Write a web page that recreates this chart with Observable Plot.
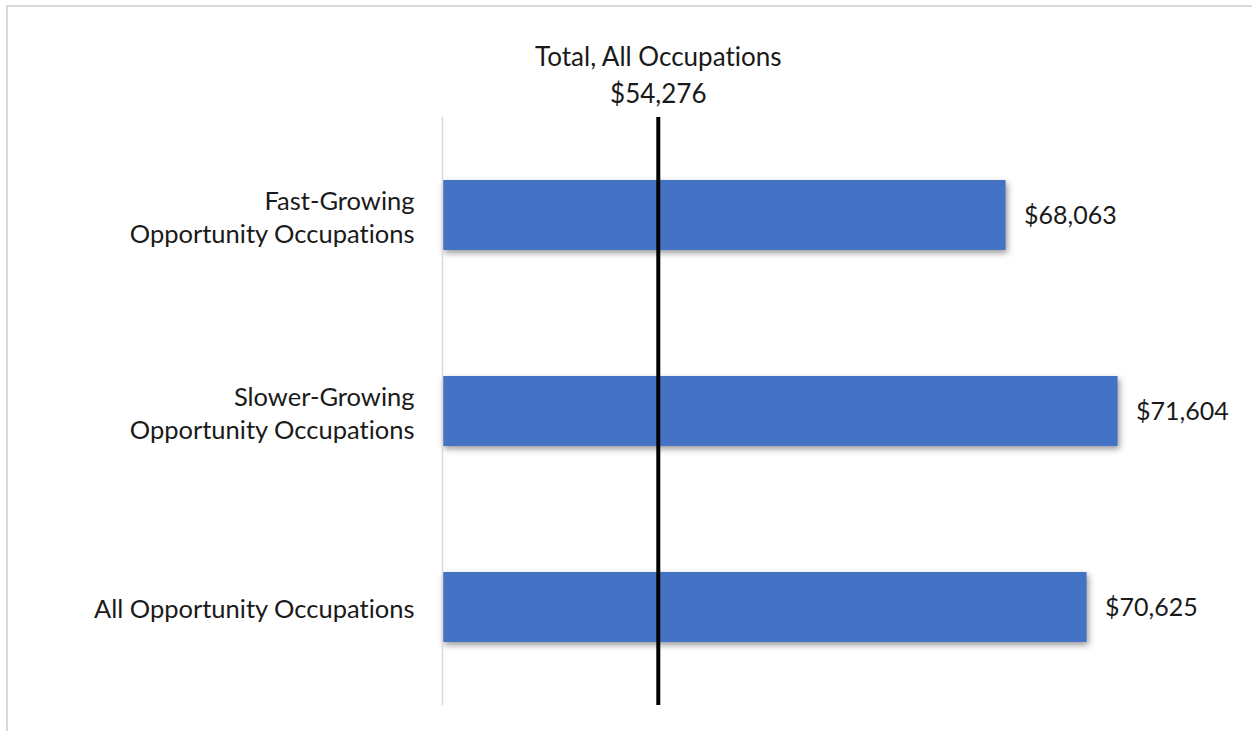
<!DOCTYPE html>
<html><head><meta charset="utf-8">
<script src="https://cdn.jsdelivr.net/npm/d3@7"></script>
<script src="https://cdn.jsdelivr.net/npm/@observablehq/plot@0.6"></script>
<style>
body{margin:0;background:#fff;}
#wrap{position:relative;width:1252px;height:731px;overflow:hidden;background:#fff;}
#frame{position:absolute;left:6px;top:5px;width:1300px;height:800px;border-top:2px solid #d9d9d9;border-left:2px solid #d9d9d9;}
#chart{position:absolute;left:0;top:0;}
svg text{font-variant-ligatures:none;}
</style></head><body>
<div id="wrap"><div id="frame"></div><div id="chart"></div></div>
<script>
// Data
const categories = ["Fast-Growing\nOpportunity Occupations", "Slower-Growing\nOpportunity Occupations", "All Opportunity Occupations"];
const values = [68063, 71604, 70625];
const totalLabel = "Total, All Occupations";
const totalValue = 54276;
// axes: primary axis for bars, secondary axis for the total line
const xDomain = [50250, 75000];
const secondaryDomain = [40000, 91800];

const fmt = d3.format("$,");
const rows = categories.map((c, i) => ({category: c, value: values[i]}));
const secondary = d3.scaleLinear().domain(secondaryDomain).range(xDomain);
const totalRow = [{label: totalLabel + "\n" + fmt(totalValue), pos: secondary(totalValue)}];

const font = "Lato, 'Open Sans', sans-serif";
const chart = Plot.plot({
  width: 1252,
  height: 731,
  marginLeft: 442,
  marginRight: 27,
  marginTop: 117,
  marginBottom: 26,
  style: {fontFamily: font, fontSize: "25.5px", color: "#1a1a1a", background: "transparent"},
  x: {domain: xDomain, axis: null},
  y: {domain: categories, paddingInner: 0.643, paddingOuter: 0.3215, label: null},
  marks: [
    Plot.axisY({tickSize: 0, tickPadding: 28, fontSize: 25.5, lineHeight: 1.31, label: null, fill: "#1a1a1a"}),
    Plot.barX(rows, {x1: xDomain[0], x2: "value", y: "category", fill: "#4472C4"}),
    Plot.ruleX([xDomain[0]], {stroke: "#d9d9d9", strokeWidth: 1.5}),
    Plot.ruleX(totalRow, {x: "pos", stroke: "#000", strokeWidth: 4}),
    Plot.text(rows, {x: "value", y: "category", text: d => fmt(d.value), dx: 18, textAnchor: "start", fill: "#1a1a1a", fontSize: 25}),
    Plot.text(totalRow, {x: "pos", frameAnchor: "top", text: "label", lineAnchor: "middle", dy: -45, lineHeight: 1.42, fill: "#1a1a1a", fontSize: 26})
  ]
});
d3.select(chart).selectAll("g[aria-label='bar']").style("filter", "drop-shadow(2px 3px 3px rgba(0,0,0,0.4))");
document.getElementById("chart").appendChild(chart);
</script>
</body></html>
